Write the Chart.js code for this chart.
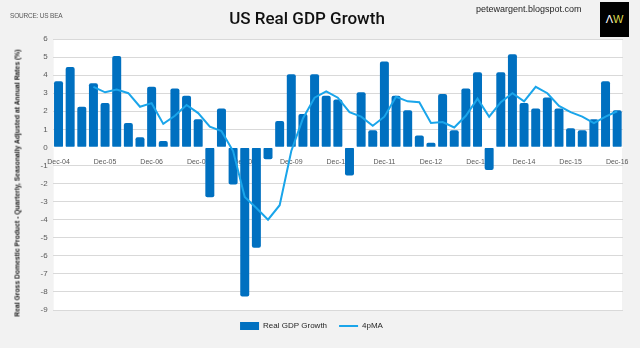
<!DOCTYPE html>
<html>
<head>
<meta charset="utf-8">
<title>US Real GDP Growth</title>
<script src="https://cdn.jsdelivr.net/npm/chart.js@4.4.0/dist/chart.umd.min.js"></script>
<style>
  body { margin: 0; background: #f2f2f2; }
  #wrap { position: relative; width: 640px; height: 348px; font-family: "Liberation Sans", Arial, sans-serif; }
  #wrap canvas { position: absolute; left: 0; top: 0; }
  .txt { position: absolute; white-space: nowrap; }
  #source { left: 10px; top: 12px; font-size: 6.5px; letter-spacing: -0.2px; color: #595959; }
  #title { left: 307px; top: 8px; transform: translateX(-50%); font-family: Roboto, sans-serif; font-weight: 500; font-size: 17px; color: #111; }
  #site { left: 476px; top: 4px; font-size: 9px; color: #262626; }
  #logo { left: 600px; top: 2px; width: 29px; height: 35px; background: #000; color: #fff; font-size: 11px; line-height: 35px; text-align: center; }
  #logo span { color: #dcd84a; }
  #ytitle { left: 17px; top: 183px; font-size: 8px; font-weight: bold; color: #1a1a1a; }
</style>
</head>
<body>
<div id="wrap">
  <canvas id="gdpChart" width="640" height="348"></canvas>
  <div class="txt" id="source">SOURCE: US BEA</div>
  <div class="txt" id="title">US Real GDP Growth</div>
  <div class="txt" id="site">petewargent.blogspot.com</div>
  <div class="txt" id="logo">&Lambda;<span>W</span></div>
  <div class="txt" id="ytitle">Real Gross Domestic Product - Quarterly, Seasonally Adjusted at Annual Rates (%)</div>
</div>
<script>
let quarters = [
  "Dec-04",
  "Mar-05", "Jun-05", "Sep-05", "Dec-05",
  "Mar-06", "Jun-06", "Sep-06", "Dec-06",
  "Mar-07", "Jun-07", "Sep-07", "Dec-07",
  "Mar-08", "Jun-08", "Sep-08", "Dec-08",
  "Mar-09", "Jun-09", "Sep-09", "Dec-09",
  "Mar-10", "Jun-10", "Sep-10", "Dec-10",
  "Mar-11", "Jun-11", "Sep-11", "Dec-11",
  "Mar-12", "Jun-12", "Sep-12", "Dec-12",
  "Mar-13", "Jun-13", "Sep-13", "Dec-13",
  "Mar-14", "Jun-14", "Sep-14", "Dec-14",
  "Mar-15", "Jun-15", "Sep-15", "Dec-15",
  "Mar-16", "Jun-16", "Sep-16", "Dec-16"
];

let gdpGrowth = [
  3.6,
  4.4, 2.2, 3.5, 2.4,
  5.0, 1.3, 0.5, 3.3,
  0.3, 3.2, 2.8, 1.5,
  -2.7, 2.1, -2.0, -8.2,
  -5.5, -0.6, 1.4, 4.0,
  1.8, 4.0, 2.8, 2.6,
  -1.5, 3.0, 0.9, 4.7,
  2.8, 2.0, 0.6, 0.2,
  2.9, 0.9, 3.2, 4.1,
  -1.2, 4.1, 5.1, 2.4,
  2.1, 2.7, 2.1, 1.0,
  0.9, 1.5, 3.6, 2.0
];

let movingAvg = [
  null,
  null, null, 3.35, 3.05,
  3.2, 3.0, 2.25, 2.45,
  1.3, 1.75, 2.35, 1.9,
  1.15, 0.9, -0.2, -2.75,
  -3.35, -4.0, -3.2, -0.2,
  1.6, 2.75, 3.1, 2.75,
  1.95, 1.7, 1.2, 1.7,
  2.8, 2.55, 2.5, 1.35,
  1.4, 1.1, 1.75, 2.7,
  1.7, 2.5, 3.0, 2.55,
  3.35, 3.0, 2.3, 1.95,
  1.7, 1.35, 1.7, 2.0
];

let yMin = -9;
let yMax = 6;

let barBlue = "#0070c0";
let lineBlue = "#1aa5ea";

// stretch the rotated axis title to the length it has in the original
let yt = document.getElementById("ytitle");
let k = 267 / yt.offsetWidth;
yt.style.transform = "translate(-50%, -50%) rotate(-90deg) scaleX(" + k + ")";

let plotBackground = {
  id: "plotBackground",
  beforeDraw(chart) {
    let ctx = chart.ctx;
    let a = chart.chartArea;
    ctx.save();
    ctx.fillStyle = "#ffffff";
    ctx.fillRect(a.left + 1, a.top, a.right - a.left - 2, a.bottom - a.top);
    ctx.restore();
  }
};

let zeroLine = {
  id: "zeroLine",
  afterDatasetDraw(chart, args) {
    if (args.index !== 0) return;
    let ctx = chart.ctx;
    let a = chart.chartArea;
    let y = chart.scales.y.getPixelForValue(0);
    ctx.save();
    ctx.strokeStyle = "#ffffff";
    ctx.lineWidth = 1.2;
    ctx.beginPath();
    ctx.moveTo(a.left, y);
    ctx.lineTo(a.right, y);
    ctx.stroke();
    ctx.restore();
  }
};

let chart = new Chart(document.getElementById("gdpChart"), {
  data: {
    labels: quarters,
    datasets: [
      {
        type: "bar",
        label: "Real GDP Growth",
        data: gdpGrowth,
        backgroundColor: barBlue,
        borderWidth: 0,
        borderRadius: 2,
        borderSkipped: false,
        inflateAmount: 1,
        categoryPercentage: 1,
        barPercentage: 0.6,
        order: 1
      },
      {
        type: "line",
        label: "4pMA",
        data: movingAvg,
        borderColor: lineBlue,
        backgroundColor: lineBlue,
        borderWidth: 2,
        pointRadius: 0,
        tension: 0,
        order: 0
      }
    ]
  },
  options: {
    responsive: false,
    animation: false,
    layout: { padding: { top: 39, left: 0, right: 17, bottom: 8 } },
    scales: {
      x: {
        type: "category",
        position: { y: 0 },
        offset: true,
        grid: { display: false },
        border: { display: false },
        ticks: {
          autoSkip: false,
          maxRotation: 0,
          padding: 2,
          color: "#595959",
          font: { family: "Liberation Sans", size: 7 },
          callback: function(val) {
            let lab = this.getLabelForValue(val);
            return lab.indexOf("Dec") === 0 ? lab : "";
          }
        }
      },
      y: {
        min: yMin,
        max: yMax,
        afterFit: function(scale) { scale.width = 52.7; },
        grid: { color: "#d9d9d9", drawTicks: false },
        border: { display: false },
        ticks: {
          stepSize: 1,
          padding: 5,
          color: "#595959",
          font: { family: "Liberation Sans", size: 8 }
        }
      }
    },
    plugins: {
      tooltip: { enabled: false },
      legend: {
        position: "bottom",
        labels: {
          usePointStyle: true,
          pointStyleWidth: 19,
          boxHeight: 9,
          padding: 12,
          color: "#262626",
          font: { family: "Liberation Sans", size: 8 },
          sort: (a, b) => a.datasetIndex - b.datasetIndex,
          generateLabels: function(chart) {
            let items = Chart.defaults.plugins.legend.labels.generateLabels(chart);
            items.forEach(it => {
              it.pointStyle = it.datasetIndex === 0 ? "rect" : "line";
            });
            return items;
          }
        }
      }
    }
  },
  plugins: [plotBackground, zeroLine]
});
</script>
</body>
</html>
